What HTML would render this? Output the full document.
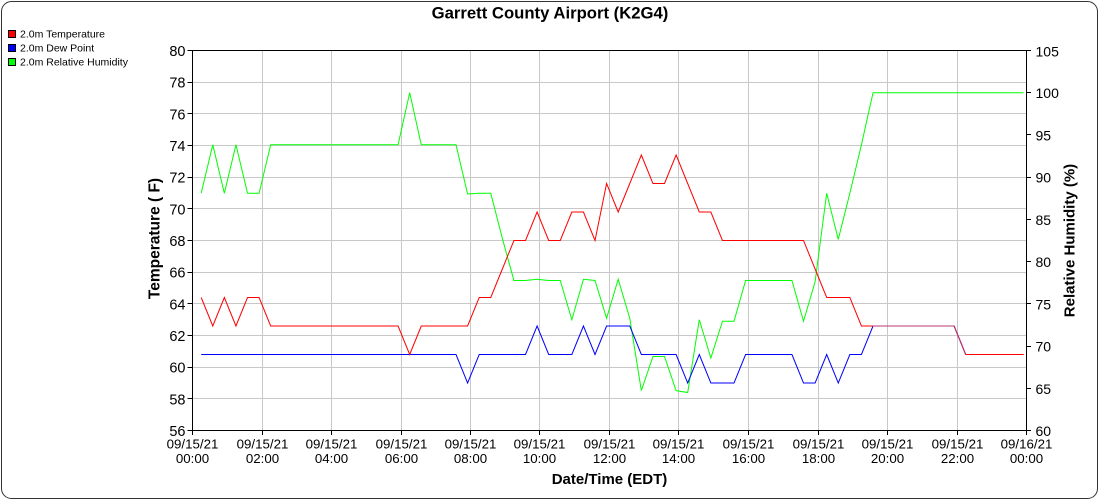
<!DOCTYPE html>
<html>
<head>
<meta charset="utf-8">
<style>
  html, body { margin:0; padding:0; background:#fff; }
  body { width:1100px; height:500px; overflow:hidden; }
  svg { display:block; font-family:"Liberation Sans", Arial, sans-serif; }
</style>
</head>
<body>
<svg width="1100" height="500" viewBox="0 0 1100 500" xmlns="http://www.w3.org/2000/svg">
  <rect x="0" y="0" width="1100" height="500" fill="#fff"/>
  <rect x="1.5" y="1.5" width="1096" height="497" rx="10" ry="10" fill="none" stroke="#333" stroke-width="1"/>

  <!-- Title -->
  <text x="550" y="18.5" text-anchor="middle" font-size="16.7" font-weight="bold" fill="#000">Garrett County Airport (K2G4)</text>

  <!-- Legend -->
  <rect x="8.5" y="30.5" width="7" height="7" fill="#ff0000" stroke="#000" stroke-width="1"/>
  <text x="20" y="37.5" font-size="10.5" fill="#000">2.0m Temperature</text>
  <rect x="8.5" y="44.5" width="7" height="7" fill="#0000ff" stroke="#000" stroke-width="1"/>
  <text x="20" y="51.5" font-size="10.5" fill="#000">2.0m Dew Point</text>
  <rect x="8.5" y="58.5" width="7" height="7" fill="#00ff00" stroke="#000" stroke-width="1"/>
  <text x="20" y="65.5" font-size="10.5" fill="#000">2.0m Relative Humidity</text>

  <!-- Grid -->
  <g stroke="#c8c8c8" stroke-width="1" fill="none">
    <path d="M192.5 82.5H1026.5 M192.5 113.5H1026.5 M192.5 145.5H1026.5 M192.5 177.5H1026.5 M192.5 208.5H1026.5 M192.5 240.5H1026.5 M192.5 272.5H1026.5 M192.5 303.5H1026.5 M192.5 335.5H1026.5 M192.5 367.5H1026.5 M192.5 398.5H1026.5"/>
    <path d="M262.5 50.5V430.5 M331.5 50.5V430.5 M401.5 50.5V430.5 M470.5 50.5V430.5 M539.5 50.5V430.5 M609.5 50.5V430.5 M678.5 50.5V430.5 M748.5 50.5V430.5 M818.5 50.5V430.5 M887.5 50.5V430.5 M957.5 50.5V430.5"/>
  </g>

  <!-- Series -->
  <g fill="none" stroke-width="1" stroke-linejoin="miter">
    <polyline stroke="#00ff00" points="201.19,193.21 212.77,144.74 224.35,193.21 235.94,144.74 247.52,193.21 259.10,193.21 270.69,144.74 398.10,144.74 409.69,92.72 421.27,144.74 456.02,144.74 467.60,193.95 479.19,193.21 490.77,193.21 502.35,238.39 513.94,280.52 525.52,280.52 537.10,279.26 548.69,280.52 560.27,280.52 571.85,319.71 583.44,279.26 595.02,280.52 606.60,318.27 618.19,279.26 629.77,318.27 641.35,390.64 652.94,356.44 664.52,356.44 676.10,390.64 687.69,392.50 699.27,319.71 710.85,358.05 722.44,321.23 734.02,321.23 745.60,280.52 791.94,280.52 803.52,321.23 815.10,281.79 826.69,193.21 838.27,239.41 849.85,193.21 861.44,144.74 873.02,92.72 1023.60,92.72"/>
    <polyline stroke="#0000ff" points="201.19,354.5 456.02,354.5 467.60,383 479.19,354.5 525.52,354.5 537.10,326 548.69,354.5 571.85,354.5 583.44,326 595.02,354.5 606.60,326 629.77,326 641.35,354.5 676.10,354.5 687.69,383 699.27,354.5 710.85,383 734.02,383 745.60,354.5 791.94,354.5 803.52,383 815.10,383 826.69,354.5 838.27,383 849.85,354.5 861.44,354.5 873.02,326 954.10,326 965.69,354.5 1023.60,354.5"/>
    <polyline stroke="#ff0000" points="201.19,297.5 212.77,326 224.35,297.5 235.94,326 247.52,297.5 259.10,297.5 270.69,326 398.10,326 409.69,354.5 421.27,326 467.60,326 479.19,297.5 490.77,297.5 502.35,269 513.94,240.5 525.52,240.5 537.10,212 548.69,240.5 560.27,240.5 571.85,212 583.44,212 595.02,240.5 606.60,183.5 618.19,212 629.77,183.5 641.35,155 652.94,183.5 664.52,183.5 676.10,155 687.69,183.5 699.27,212 710.85,212 722.44,240.5 803.52,240.5 815.10,269 826.69,297.5 849.85,297.5 861.44,326 954.10,326 965.69,354.5 1023.60,354.5"/>
    <polyline stroke="#b8387a" points="873.02,326 954.10,326 965.69,354.5"/>
  </g>

  <!-- Plot border -->
  <rect x="192.5" y="50.5" width="834" height="380" fill="none" stroke="#000" stroke-width="1"/>

  <!-- Ticks -->
  <g stroke="#000" stroke-width="1">
    <path d="M187.5 50.5H192.5 M187.5 82.5H192.5 M187.5 113.5H192.5 M187.5 145.5H192.5 M187.5 177.5H192.5 M187.5 208.5H192.5 M187.5 240.5H192.5 M187.5 272.5H192.5 M187.5 303.5H192.5 M187.5 335.5H192.5 M187.5 367.5H192.5 M187.5 398.5H192.5 M187.5 430.5H192.5"/>
    <path d="M1026.5 50.5H1031 M1026.5 92.5H1031 M1026.5 134.5H1031 M1026.5 177.5H1031 M1026.5 219.5H1031 M1026.5 261.5H1031 M1026.5 303.5H1031 M1026.5 346.5H1031 M1026.5 388.5H1031 M1026.5 430.5H1031"/>
    <path d="M192.5 430.5V435 M262.5 430.5V435 M331.5 430.5V435 M401.5 430.5V435 M470.5 430.5V435 M539.5 430.5V435 M609.5 430.5V435 M678.5 430.5V435 M748.5 430.5V435 M818.5 430.5V435 M887.5 430.5V435 M957.5 430.5V435 M1026.5 430.5V435"/>
  </g>

  <!-- Left tick labels -->
  <g font-size="14.5" fill="#000" text-anchor="end">
    <text x="185.5" y="56">80</text>
    <text x="185.5" y="87.7">78</text>
    <text x="185.5" y="119.3">76</text>
    <text x="185.5" y="151">74</text>
    <text x="185.5" y="182.7">72</text>
    <text x="185.5" y="214.3">70</text>
    <text x="185.5" y="246">68</text>
    <text x="185.5" y="277.7">66</text>
    <text x="185.5" y="309.3">64</text>
    <text x="185.5" y="341">62</text>
    <text x="185.5" y="372.7">60</text>
    <text x="185.5" y="404.3">58</text>
    <text x="185.5" y="436">56</text>
  </g>

  <!-- Right tick labels -->
  <g font-size="14" fill="#000" text-anchor="start">
    <text x="1035.5" y="56.5">105</text>
    <text x="1035.5" y="98.2">100</text>
    <text x="1035.5" y="140.4">95</text>
    <text x="1035.5" y="182.7">90</text>
    <text x="1035.5" y="224.9">85</text>
    <text x="1035.5" y="267.1">80</text>
    <text x="1035.5" y="309.3">75</text>
    <text x="1035.5" y="351.6">70</text>
    <text x="1035.5" y="393.8">65</text>
    <text x="1035.5" y="436">60</text>
  </g>

  <!-- X tick labels -->
  <g font-size="13.3" fill="#000" text-anchor="middle">
    <text x="192.5" y="448.3">09/15/21</text><text x="192.5" y="463.2">00:00</text>
    <text x="262.5" y="448.3">09/15/21</text><text x="262.5" y="463.2">02:00</text>
    <text x="331.5" y="448.3">09/15/21</text><text x="331.5" y="463.2">04:00</text>
    <text x="401.5" y="448.3">09/15/21</text><text x="401.5" y="463.2">06:00</text>
    <text x="470.5" y="448.3">09/15/21</text><text x="470.5" y="463.2">08:00</text>
    <text x="539.5" y="448.3">09/15/21</text><text x="539.5" y="463.2">10:00</text>
    <text x="609.5" y="448.3">09/15/21</text><text x="609.5" y="463.2">12:00</text>
    <text x="678.5" y="448.3">09/15/21</text><text x="678.5" y="463.2">14:00</text>
    <text x="748.5" y="448.3">09/15/21</text><text x="748.5" y="463.2">16:00</text>
    <text x="818.5" y="448.3">09/15/21</text><text x="818.5" y="463.2">18:00</text>
    <text x="887.5" y="448.3">09/15/21</text><text x="887.5" y="463.2">20:00</text>
    <text x="957.5" y="448.3">09/15/21</text><text x="957.5" y="463.2">22:00</text>
    <text x="1026.5" y="448.3">09/16/21</text><text x="1026.5" y="463.2">00:00</text>
  </g>

  <!-- Axis titles -->
  <text x="609.5" y="484" text-anchor="middle" font-size="15" font-weight="bold" fill="#000">Date/Time (EDT)</text>
  <text transform="translate(159.5,238.5) rotate(-90)" text-anchor="middle" font-size="15.5" font-weight="bold" fill="#000">Temperature ( F)</text>
  <text transform="translate(1074.5,240.5) rotate(-90)" text-anchor="middle" font-size="15" font-weight="bold" fill="#000">Relative Humidity (%)</text>
</svg>
</body>
</html>
